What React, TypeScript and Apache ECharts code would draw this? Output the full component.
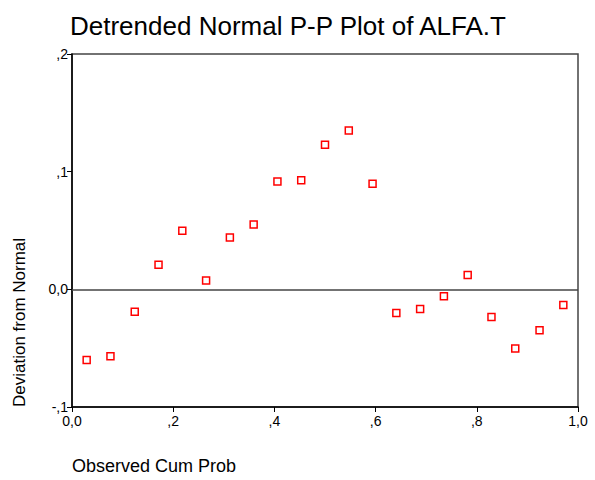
import React, { useEffect, useRef } from "react";
import * as echarts from "echarts";

const titleText = "Detrended Normal P-P Plot of ALFA.T";
const xAxisTitle = "Observed Cum Prob";
const yAxisTitle = "Deviation from Normal";

const observedCumProb = [
  0.029, 0.076, 0.124, 0.171, 0.218, 0.265, 0.312, 0.359, 0.406, 0.453, 0.5,
  0.547, 0.594, 0.641, 0.688, 0.735, 0.782, 0.829, 0.876, 0.924, 0.971,
];
const deviation = [
  -0.06, -0.0568, -0.0191, 0.0208, 0.0497, 0.0075, 0.044, 0.0551, 0.0916,
  0.0928, 0.1228, 0.135, 0.0897, -0.0202, -0.0168, -0.0058, 0.0121, -0.0236,
  -0.0503, -0.0347, -0.0134,
];

const xTicks = [0, 0.2, 0.4, 0.6, 0.8, 1.0];
const yTicks = [-0.1, 0, 0.1, 0.2];

const FONT = "'Liberation Sans', Arial, sans-serif";

function fmt(v: number): string {
  const r = Math.round(v * 10) / 10;
  if (r === 0) return "0,0";
  if (Math.abs(r) === 1) return (r < 0 ? "-" : "") + "1,0";
  const s = Math.abs(r).toFixed(1).replace("0.", ",");
  return (r < 0 ? "-" : "") + s;
}

export default function App() {
  const ref = useRef<HTMLDivElement>(null);
  useEffect(() => {
    if (!ref.current) return;
    const chart = echarts.init(ref.current, null, { renderer: "svg" });
    const data = observedCumProb.map((x, i) => [x, deviation[i]]);
    chart.setOption({
      animation: false,
      backgroundColor: "#ffffff",
      textStyle: { fontFamily: FONT },
      title: {
        text: titleText,
        left: 65,
        top: 8,
        textStyle: { fontFamily: FONT, fontSize: 26, fontWeight: "normal", color: "#000" },
      },
      grid: {
        left: 72,
        right: 17,
        top: 54,
        bottom: 73,
        show: true,
        borderColor: "#444",
        borderWidth: 1.5,
        backgroundColor: "transparent",
      },
      xAxis: {
        type: "value",
        min: xTicks[0],
        max: xTicks[xTicks.length - 1],
        interval: 0.2,
        axisLine: { show: true, onZero: false, lineStyle: { color: "#000", width: 1.5 } },
        axisTick: { show: true, length: 5, lineStyle: { color: "#000" } },
        splitLine: { show: false },
        axisLabel: {
          color: "#000",
          fontSize: 14,
          fontFamily: FONT,
          margin: 7,
          formatter: (v: number) => fmt(v),
        },
      },
      yAxis: {
        type: "value",
        min: yTicks[0],
        max: yTicks[yTicks.length - 1],
        interval: 0.1,
        axisLine: { show: true, onZero: false, lineStyle: { color: "#000", width: 1.5 } },
        axisTick: { show: true, length: 5, lineStyle: { color: "#000" } },
        splitLine: { show: false },
        axisLabel: {
          color: "#000",
          fontSize: 14,
          fontFamily: FONT,
          margin: 4,
          formatter: (v: number) => fmt(v),
        },
      },
      graphic: [
        {
          type: "text",
          left: 72,
          top: 457,
          style: { text: xAxisTitle, font: `18px ${FONT}`, fill: "#000" },
        },
        {
          type: "text",
          x: 28,
          y: 407,
          rotation: Math.PI / 2,
          style: {
            text: yAxisTitle,
            font: `17px ${FONT}`,
            fill: "#000",
            textAlign: "left",
            textVerticalAlign: "bottom",
          },
          originX: 0,
          originY: 0,
        },
      ],
      series: [
        {
          type: "scatter",
          data,
          symbol: "rect",
          symbolSize: 7,
          itemStyle: { color: "#ffffff", borderColor: "#ff0000", borderWidth: 1.5, opacity: 1 },
          markLine: {
            silent: true,
            symbol: "none",
            label: { show: false },
            lineStyle: { color: "#444", width: 1.5, type: "solid" },
            data: [{ yAxis: 0 }],
          },
          z: 5,
        },
      ],
    });
    return () => chart.dispose();
  }, []);
  return (
    <div
      ref={ref}
      style={{ position: "fixed", left: 0, top: 0, width: 595, height: 480 }}
    />
  );
}
